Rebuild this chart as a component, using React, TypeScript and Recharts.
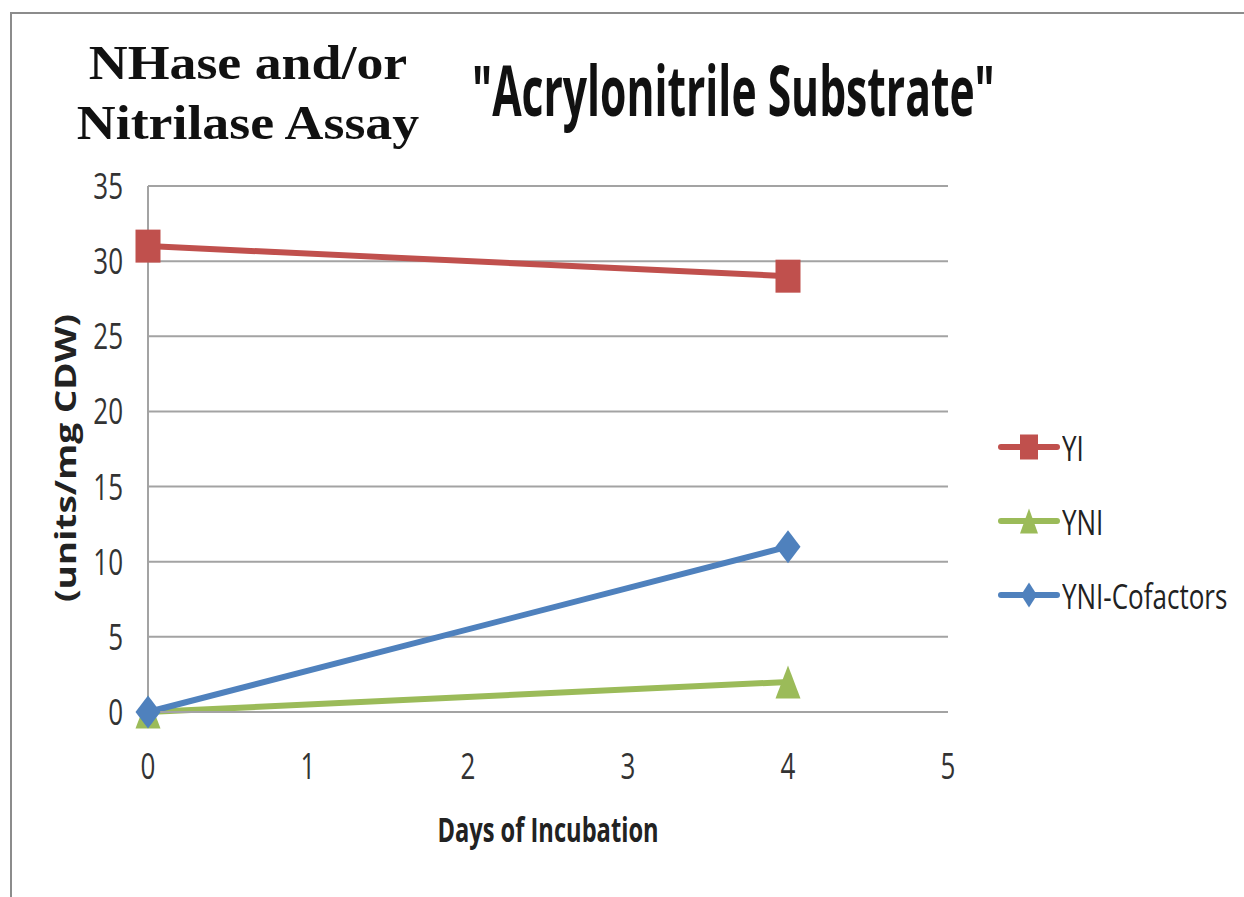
import { LineChart, Line, XAxis, YAxis, CartesianGrid } from "recharts";

// Days of incubation
const days = [0, 4];
// activity (units/mg CDW)
const yiValues = [31, 29];
const yniValues = [0, 2];
const yniCofValues = [0, 11];

const xTicks = [0, 1, 2, 3, 4, 5];
const yTicks = [0, 5, 10, 15, 20, 25, 30, 35];

const seriesNames = ["YI", "YNI", "YNI-Cofactors"];
const seriesColors = ["#C0504D", "#9BBB59", "#4F81BD"];
const seriesShapes = ["square", "triangle", "diamond"];

const data = days.map((d, i) => ({
  day: d,
  YI: yiValues[i],
  YNI: yniValues[i],
  "YNI-Cofactors": yniCofValues[i],
}));

const W = 1244;
const H = 897;
const SANS = "'Open Sans', sans-serif";
const GRID = "#a3a3a3";

// markers are taller than wide (the original picture is stretched vertically)
function Marker({ shape, cx, cy, color, w, h }: { shape: string; cx: number; cy: number; color: string; w: number; h: number }) {
  const hw = w / 2;
  const hh = h / 2;
  if (shape === "square") {
    return <rect x={cx - hw} y={cy - hh} width={w} height={h} fill={color} />;
  }
  if (shape === "triangle") {
    return <polygon points={`${cx},${cy - hh} ${cx + hw},${cy + hh} ${cx - hw},${cy + hh}`} fill={color} />;
  }
  return <polygon points={`${cx},${cy - hh} ${cx + hw},${cy} ${cx},${cy + hh} ${cx - hw},${cy}`} fill={color} />;
}

function makeDot(i: number) {
  return (props: any) => (
    <Marker key={`${seriesNames[i]}-${props.index}`} shape={seriesShapes[i]} cx={props.cx} cy={props.cy} color={seriesColors[i]} w={25} h={33} />
  );
}

function YTick(props: any) {
  const { x, y, payload } = props;
  return (
    <text transform={`translate(${x - 25},${y}) scale(1,1.4)`} y={9.3} textAnchor="end" fontFamily={SANS} fontSize={26} fill="#333">
      {payload.value}
    </text>
  );
}

function XTick(props: any) {
  const { x, y, payload } = props;
  return (
    <text transform={`translate(${x},${y + 53.5}) scale(1,1.4)`} y={9.3} textAnchor="middle" fontFamily={SANS} fontSize={26} fill="#333">
      {payload.value}
    </text>
  );
}

function LegendBox() {
  return (
    <div style={{ position: "absolute", left: 994, top: 410 }}>
      {seriesNames.map((name, i) => (
        <div key={name} style={{ display: "flex", alignItems: "center", height: 74 }}>
          <svg width={68} height={40}>
            <line x1={7} y1={20} x2={63} y2={20} stroke={seriesColors[i]} strokeWidth={6} strokeLinecap="round" />
            <Marker shape={seriesShapes[i]} cx={35} cy={20} color={seriesColors[i]} w={i === 2 ? 16 : 18} h={25} />
          </svg>
          <span style={{ display: "inline-block", fontFamily: SANS, fontSize: 26, color: "#222", transform: "scaleY(1.35)" }}>{name}</span>
        </div>
      ))}
    </div>
  );
}

export default function App() {
  return (
    <div style={{ position: "absolute", left: 0, top: 0, width: W, height: H, background: "#fff", overflow: "hidden" }}>
      {/* frame */}
      <div style={{ position: "absolute", left: 10, top: 12, width: W - 10, height: H - 12, borderTop: "2px solid #8c8c8c", borderLeft: "2px solid #8c8c8c" }} />
      <LineChart width={W} height={H} data={data} margin={{ top: 186, right: 296, bottom: 125, left: 88 }}>
        <CartesianGrid vertical={false} stroke={GRID} strokeWidth={2} />
        <XAxis
          dataKey="day"
          type="number"
          domain={[0, 5]}
          ticks={xTicks}
          height={60}
          axisLine={{ stroke: GRID, strokeWidth: 2 }}
          tickLine={false}
          tickSize={0}
          tickMargin={0}
          tick={XTick}
        />
        <YAxis
          type="number"
          domain={[0, 35]}
          ticks={yTicks}
          width={60}
          axisLine={{ stroke: GRID, strokeWidth: 2 }}
          tickLine={false}
          tickSize={0}
          tickMargin={0}
          tick={YTick}
        />
        {seriesNames.map((name, i) => (
          <Line
            key={name}
            type="linear"
            dataKey={name}
            stroke={seriesColors[i]}
            strokeWidth={6}
            dot={makeDot(i)}
            activeDot={false}
            isAnimationActive={false}
          />
        ))}
      </LineChart>
      <LegendBox />
      <div style={{ position: "absolute", left: 48, top: 33, width: 400, textAlign: "center", fontFamily: "'Liberation Serif', serif", fontWeight: "bold", fontSize: 46, lineHeight: "56px", color: "#111", transform: "scale(1.17,1.07)", transformOrigin: "50% 0" }}>
        NHase and/or
        <br />
        Nitrilase Assay
      </div>
      <div style={{ position: "absolute", left: 472, top: 49, fontFamily: SANS, fontWeight: "bold", fontSize: 58, lineHeight: "66px", color: "#111", whiteSpace: "nowrap", transform: "scale(0.735,1.21)", transformOrigin: "0 0" }}>
        "Acrylonitrile Substrate"
      </div>
      <div style={{ position: "absolute", left: 348, top: 811, width: 400, height: 36, lineHeight: "36px", textAlign: "center", fontFamily: SANS, fontWeight: "bold", fontSize: 26, color: "#222", transform: "scale(0.91,1.29)" }}>
        Days of Incubation
      </div>
      <div style={{ position: "absolute", left: -135, top: 440, width: 400, height: 36, textAlign: "center", transform: "rotate(-90deg) scale(1.32,1.04)", fontFamily: SANS, fontWeight: "bold", fontSize: 28, lineHeight: "36px", color: "#222" }}>
        (units/mg CDW)
      </div>
    </div>
  );
}
